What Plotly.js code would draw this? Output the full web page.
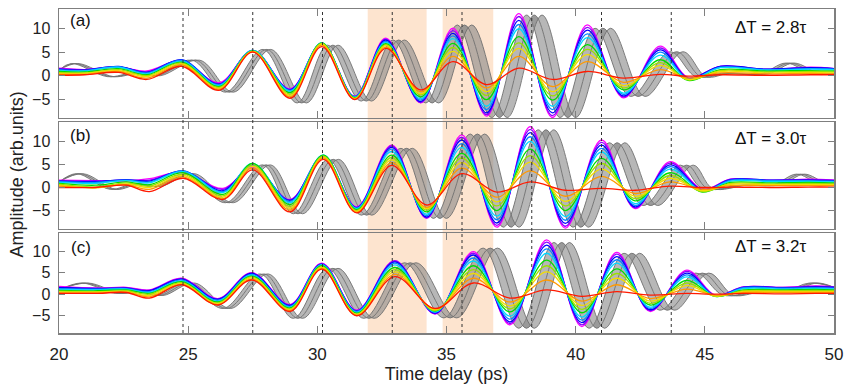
<!DOCTYPE html>
<html><head><meta charset="utf-8">
<script src="https://cdn.plot.ly/plotly-3.0.1.min.js"></script>
<style>html,body{margin:0;padding:0;background:#fff}#chart{width:850px;height:392px}</style>
</head><body><div id="chart"></div>
<script>
// Colour of each measured trace (columns of the amplitude tables), strongest -> weakest
const seriesColors = ['#ff00ff','#8a00ff','#0000ff','#0a84ff','#00d8ff','#00dd00','#9be000','#f2dc00','#ff9900','#ff1a00'];

// Vertical dotted reference lines and shaded windows (time delay, ps)
const refLines = [24.8, 27.5, 30.2, 32.9, 35.6, 38.3, 41.0, 43.7];
const shadeStart = [31.95, 34.85];
const shadeEnd   = [34.23, 36.81];

const panelLabels = ['(a)', '(b)', '(c)'];
const deltaLabels = ['\u0394T = 2.8\u03c4', '\u0394T = 3.0\u03c4', '\u0394T = 3.2\u03c4'];
const yTicks = [-5, 0, 5, 10];
const xTicks = [20, 25, 30, 35, 40, 45, 50];

// ---------- panel (a) ----------
const tA = [20, 21.0, 22.3, 23.4, 24.75, 26.2, 27.5, 28.95, 30.17, 31.45, 32.65, 34.0, 35.25, 36.55, 37.8, 39.1, 40.45, 41.85, 43.27, 44.35, 45.6, 47.3, 49.1, 50];
const aAmp = [
 [1.6, 1.5, 1.4, 1.3, 1.1, 0.9, 0.7, 0.5, 0.3, 0.1],
 [1.3, 1.3, 1.2, 1.1, 1.0, 0.8, 0.6, 0.5, 0.3, 0.2],
 [1.8, 1.9, 2.0, 1.9, 1.8, 1.5, 1.3, 1.1, 0.9, 0.7],
 [1.0, 0.8, 0.7, 0.6, 0.4, 0.2, 0.0, -0.2, -0.5, -0.8],
 [3.2, 3.3, 3.4, 3.3, 3.1, 2.9, 2.7, 2.5, 2.3, 2.0],
 [-1.5, -1.7, -1.8, -1.9, -2.1, -2.3, -2.5, -2.7, -2.9, -3.1],
 [5.3, 5.3, 5.4, 5.4, 5.4, 5.3, 5.2, 5.2, 5.1, 5.0],
 [-2.8, -2.9, -3.0, -3.1, -3.3, -3.6, -3.9, -4.2, -4.5, -4.8],
 [6.8, 6.9, 6.9, 7.0, 7.0, 7.0, 6.9, 6.7, 6.5, 6.2],
 [-4.4, -4.4, -4.5, -4.5, -4.6, -4.7, -4.8, -4.9, -5.0, -5.1],
 [8.0, 7.8, 7.6, 7.3, 7.1, 6.8, 6.6, 6.4, 6.1, 5.8],
 [-5.8, -5.7, -5.5, -5.2, -4.9, -4.5, -4.1, -3.8, -3.4, -3.0],
 [10.1, 9.6, 9.0, 8.5, 7.9, 6.9, 6.0, 5.2, 4.1, 3.0],
 [-8.6, -8.3, -7.9, -7.2, -6.5, -5.1, -4.2, -3.4, -2.6, -1.9],
 [13.2, 12.6, 11.8, 10.9, 10.0, 8.3, 7.0, 5.8, 4.1, 1.6],
 [-8.9, -8.5, -7.9, -7.2, -6.5, -5.2, -4.3, -3.4, -2.3, -0.8],
 [10.8, 10.3, 9.7, 8.9, 8.1, 6.6, 5.6, 4.5, 3.0, 0.9],
 [-4.7, -4.5, -4.3, -4.0, -3.7, -3.0, -2.6, -2.1, -1.4, -0.5],
 [6.3, 5.9, 5.5, 5.0, 4.4, 3.4, 2.8, 2.2, 1.3, 0.3],
 [-0.4, -0.5, -0.6, -0.7, -0.8, -1.0, -0.9, -0.8, -0.5, -0.1],
 [2.0, 2.0, 2.0, 1.8, 1.7, 1.3, 1.1, 0.9, 0.6, 0.2],
 [1.3, 1.4, 1.4, 1.3, 1.2, 1.0, 0.8, 0.6, 0.4, 0.1],
 [1.8, 1.7, 1.7, 1.5, 1.4, 1.1, 0.9, 0.7, 0.5, 0.2],
 [1.5, 1.5, 1.5, 1.4, 1.3, 1.0, 0.8, 0.6, 0.4, 0.2]
];
const gAv     = [1.2, 2.6, -0.2, 0.6, 0.0, 3.3, -3.5, 5.6, -5.8, 6.5, -5.4, 7.6, -5.8, 10.8, -8.9, 12.9, -8.9, 10.1, -4.4, 5.1, -0.2, 0.5, 0.4, 2.7, 0.4, 0.4];
const gAmid   = [20, 20.6, 22.0, 23.0, 23.8, 25.3, 26.6, 28.05, 29.4, 30.6, 31.9, 33.15, 34.45, 35.7, 37.05, 38.4, 39.7, 41.05, 42.4, 43.9, 44.85, 45.8, 47.3, 48.3, 49.3, 50];
const gAlead  = [20, 20.48, 21.88, 22.88, 23.68, 25.15, 26.45, 27.9, 29.22, 30.4, 31.7, 32.93, 34.2, 35.42, 36.75, 38.1, 39.4, 40.75, 42.12, 43.65, 44.65, 45.65, 47.15, 48.15, 49.15, 50];
const gAtrail = [20, 20.72, 22.12, 23.12, 23.92, 25.45, 26.75, 28.2, 29.58, 30.8, 32.1, 33.37, 34.7, 35.98, 37.35, 38.7, 40.0, 41.35, 42.68, 44.15, 45.05, 45.95, 47.45, 48.45, 49.45, 50];

// ---------- panel (b) ----------
const tB = [20, 21.4, 22.6, 23.5, 24.81, 26.35, 27.5, 28.94, 30.23, 31.52, 32.88, 34.23, 35.59, 36.95, 38.24, 39.6, 41.0, 42.3, 43.65, 44.9, 46.0, 47.5, 49.0, 50];
const bAmp = [
 [1.6, 1.5, 1.4, 1.3, 1.1, 0.9, 0.7, 0.5, 0.3, 0.0],
 [1.5, 1.4, 1.3, 1.1, 0.9, 0.5, 0.1, -0.1, 0.0, 0.0],
 [1.4, 1.6, 1.7, 1.6, 1.5, 1.2, 1.0, 0.8, 0.6, 0.5],
 [1.9, 1.6, 1.4, 1.2, 1.0, 0.6, 0.3, 0.0, -0.4, -0.9],
 [3.3, 3.5, 3.6, 3.6, 3.5, 3.2, 2.9, 2.6, 2.3, 2.0],
 [-0.2, -0.4, -0.7, -0.9, -1.1, -1.5, -1.8, -2.1, -2.4, -2.6],
 [4.3, 4.6, 4.9, 5.1, 5.2, 5.2, 4.9, 4.6, 4.2, 3.8],
 [-2.6, -2.7, -2.8, -3.0, -3.3, -3.7, -4.1, -4.5, -4.9, -5.3],
 [6.6, 6.8, 6.9, 7.0, 7.0, 7.0, 6.8, 6.6, 6.4, 6.1],
 [-4.2, -4.3, -4.4, -4.5, -4.6, -4.8, -5.0, -5.2, -5.4, -5.5],
 [9.2, 9.0, 8.7, 8.3, 7.8, 7.0, 6.5, 6.0, 5.4, 4.8],
 [-6.7, -6.6, -6.4, -6.1, -5.8, -5.3, -4.9, -4.6, -4.3, -3.8],
 [11.4, 10.9, 10.3, 9.5, 8.7, 7.4, 6.4, 5.4, 4.2, 3.0],
 [-8.6, -8.2, -7.7, -7.0, -6.2, -5.0, -4.0, -3.1, -2.1, -1.0],
 [13.2, 12.6, 11.9, 11.0, 10.0, 8.3, 6.9, 5.5, 3.6, 1.2],
 [-8.8, -8.4, -7.8, -7.1, -6.3, -5.0, -4.0, -3.0, -1.9, -0.6],
 [10.3, 9.8, 9.2, 8.5, 7.7, 6.3, 5.2, 4.0, 2.4, -0.2],
 [-4.6, -4.4, -4.2, -3.9, -3.5, -2.9, -2.4, -1.9, -1.3, -0.6],
 [5.6, 5.3, 4.9, 4.5, 4.0, 3.2, 2.6, 2.0, 1.2, 0.3],
 [-0.4, -0.5, -0.6, -0.7, -0.8, -1.0, -0.9, -0.7, -0.4, 0.0],
 [1.8, 1.8, 1.7, 1.6, 1.4, 1.1, 0.9, 0.7, 0.4, 0.1],
 [1.5, 1.6, 1.6, 1.5, 1.3, 1.0, 0.8, 0.6, 0.4, 0.0],
 [1.8, 1.7, 1.6, 1.5, 1.3, 1.1, 0.9, 0.6, 0.4, 0.1],
 [1.6, 1.6, 1.5, 1.4, 1.2, 1.0, 0.8, 0.6, 0.4, 0.1]
];
const gBv     = [1.2, 3.0, -0.4, 0.8, 0.2, 3.0, -3.3, 4.9, -5.7, 6.1, -6.0, 8.5, -6.7, 11.6, -8.6, 12.5, -8.6, 9.7, -3.9, 4.85, -0.2, 0.5, 0.6, 2.9, 1.0, 0.7];
const gBmid   = [20, 20.8, 22.1, 23.0, 23.8, 25.1, 26.6, 28.04, 29.25, 30.62, 31.91, 33.46, 34.75, 36.2, 37.5, 38.85, 40.2, 41.6, 42.88, 44.3, 45.1, 46.5, 47.8, 48.7, 49.5, 50];
const gBlead  = [20, 20.68, 21.98, 22.88, 23.68, 24.95, 26.45, 27.89, 29.07, 30.42, 31.71, 33.24, 34.5, 35.92, 37.2, 38.55, 39.9, 41.3, 42.6, 44.05, 44.9, 46.35, 47.65, 48.55, 49.35, 50];
const gBtrail = [20, 20.92, 22.22, 23.12, 23.92, 25.25, 26.75, 28.19, 29.43, 30.82, 32.11, 33.68, 35.0, 36.48, 37.8, 39.15, 40.5, 41.9, 43.16, 44.55, 45.3, 46.65, 47.95, 48.85, 49.65, 50];

// ---------- panel (c) ----------
const tC = [20, 21.5, 22.6, 23.5, 24.75, 26.15, 27.46, 28.94, 30.17, 31.52, 33.0, 34.56, 36.04, 37.46, 38.88, 40.24, 41.59, 42.88, 44.3, 45.4, 46.5, 48.0, 49.3, 50];
const cAmp = [
 [1.8, 1.6, 1.5, 1.3, 1.1, 0.9, 0.7, 0.5, 0.3, 0.2],
 [1.4, 1.4, 1.3, 1.2, 1.0, 0.8, 0.6, 0.5, 0.3, 0.2],
 [1.6, 1.5, 1.4, 1.3, 1.2, 1.0, 0.8, 0.6, 0.5, 0.4],
 [1.0, 0.9, 0.8, 0.6, 0.4, 0.2, 0.0, -0.3, -0.6, -0.9],
 [3.7, 3.6, 3.5, 3.3, 3.1, 2.9, 2.7, 2.5, 2.3, 2.2],
 [-1.0, -1.1, -1.2, -1.4, -1.6, -1.8, -2.0, -2.2, -2.4, -2.5],
 [5.0, 4.9, 4.8, 4.6, 4.4, 4.2, 4.0, 3.8, 3.5, 3.3],
 [-2.4, -2.5, -2.6, -2.8, -3.0, -3.2, -3.4, -3.6, -3.8, -4.0],
 [7.2, 7.1, 7.0, 6.9, 6.8, 6.6, 6.4, 6.2, 6.0, 5.8],
 [-3.7, -3.8, -3.9, -4.0, -4.2, -4.4, -4.6, -4.7, -4.9, -5.0],
 [7.8, 7.7, 7.5, 7.2, 6.8, 6.2, 5.7, 5.2, 4.6, 4.1],
 [-4.6, -4.5, -4.4, -4.2, -4.1, -3.9, -3.8, -3.6, -3.4, -3.3],
 [9.9, 9.5, 9.1, 8.4, 7.7, 6.6, 5.7, 4.8, 3.7, 2.6],
 [-7.1, -6.8, -6.4, -5.8, -5.1, -4.1, -3.4, -2.7, -1.8, -0.9],
 [12.6, 12.1, 11.4, 10.5, 9.5, 7.9, 6.6, 5.2, 3.3, 1.0],
 [-7.5, -7.1, -6.6, -6.0, -5.3, -4.3, -3.5, -2.6, -1.6, -0.5],
 [9.7, 9.3, 8.7, 8.0, 7.2, 5.9, 4.8, 3.7, 2.2, 0.6],
 [-4.0, -3.8, -3.6, -3.3, -3.0, -2.5, -2.1, -1.6, -1.0, -0.2],
 [5.6, 5.3, 4.9, 4.5, 4.0, 3.2, 2.6, 2.0, 1.2, 0.2],
 [-0.2, -0.3, -0.4, -0.4, -0.5, -0.5, -0.5, -0.4, -0.2, 0.0],
 [1.7, 1.7, 1.6, 1.5, 1.3, 1.0, 0.8, 0.6, 0.4, 0.2],
 [1.6, 1.6, 1.5, 1.4, 1.2, 1.0, 0.8, 0.6, 0.4, 0.1],
 [1.9, 1.8, 1.7, 1.5, 1.3, 1.1, 0.9, 0.6, 0.4, 0.2],
 [1.7, 1.7, 1.6, 1.4, 1.2, 1.0, 0.8, 0.6, 0.4, 0.2]
];
const gCv     = [1.0, 2.6, 0.2, 0.8, -0.3, 2.6, -3.3, 4.7, -5.6, 6.0, -5.6, 7.3, -5.5, 10.7, -7.9, 12.0, -7.9, 9.5, -3.7, 4.9, -0.2, 0.5, 0.8, 2.6, 1.6];
const gCmid   = [20, 21.0, 22.3, 23.2, 23.9, 25.1, 26.5, 27.95, 29.25, 30.6, 32.0, 33.6, 35.15, 36.7, 38.1, 39.46, 40.82, 42.17, 43.53, 44.9, 45.9, 47.0, 48.3, 49.2, 50];
const gClead  = [20, 20.88, 22.18, 23.08, 23.78, 24.95, 26.35, 27.8, 29.07, 30.4, 31.8, 33.38, 34.9, 36.42, 37.8, 39.16, 40.52, 41.87, 43.25, 44.65, 45.7, 46.85, 48.15, 49.05, 50];
const gCtrail = [20, 21.12, 22.42, 23.32, 24.02, 25.25, 26.65, 28.1, 29.43, 30.8, 32.2, 33.82, 35.4, 36.98, 38.4, 39.76, 41.12, 42.47, 43.81, 45.15, 46.1, 47.15, 48.45, 49.35, 50];

const panels = [
  {t: tA, amp: aAmp, gv: gAv, gmid: gAmid, glead: gAlead, gtrail: gAtrail},
  {t: tB, amp: bAmp, gv: gBv, gmid: gBmid, glead: gBlead, gtrail: gBtrail},
  {t: tC, amp: cAmp, gv: gCv, gmid: gCmid, glead: gClead, gtrail: gCtrail}
];

const traces = [];
panels.forEach((p, i) => {
  const xa = i === 0 ? 'x' : 'x' + (i + 1);
  const ya = i === 0 ? 'y' : 'y' + (i + 1);
  const gline = {color: '#6f6f6f', width: 0.9, shape: 'spline', smoothing: 1};
  const gfill = 'rgba(135,135,135,0.6)';
  traces.push({x: p.glead, y: p.gv, xaxis: xa, yaxis: ya, mode: 'lines', line: gline, hoverinfo: 'skip', showlegend: false});
  traces.push({x: p.gmid, y: p.gv, xaxis: xa, yaxis: ya, mode: 'lines', line: gline, fill: 'tonexty', fillcolor: gfill, hoverinfo: 'skip', showlegend: false});
  traces.push({x: p.gtrail, y: p.gv, xaxis: xa, yaxis: ya, mode: 'lines', line: gline, fill: 'tonexty', fillcolor: gfill, hoverinfo: 'skip', showlegend: false});
  seriesColors.forEach((c, k) => {
    traces.push({x: p.t, y: p.amp.map(r => r[k]), xaxis: xa, yaxis: ya, mode: 'lines',
      line: {color: c, width: 1.3, shape: 'spline', smoothing: 1}, hoverinfo: 'skip', showlegend: false});
  });
});

const font = 'Liberation Sans, Arial, sans-serif';
function xAxis(i, labels) {
  return {range: [20, 50], domain: [0, 1], anchor: i === 0 ? 'y' : 'y' + (i + 1),
    showline: true, linecolor: '#7f7f7f', linewidth: 1.5, mirror: 'ticks',
    ticks: 'inside', ticklen: 7, tickwidth: 1.2, tickcolor: '#7f7f7f',
    tickvals: xTicks, showticklabels: labels, ticklabelstandoff: 5,
    tickfont: {family: font, size: 17, color: '#222'},
    showgrid: false, zeroline: false, fixedrange: true};
}
function yAxis(i, dom) {
  return {range: [-9, 14.2], domain: dom, anchor: i === 0 ? 'x' : 'x' + (i + 1),
    showline: true, linecolor: '#7f7f7f', linewidth: 1.5, mirror: 'ticks',
    ticks: 'inside', ticklen: 6, tickwidth: 1.2, tickcolor: '#7f7f7f',
    tickvals: yTicks, ticklabelstandoff: 4,
    tickfont: {family: font, size: 16, color: '#222'},
    showgrid: false, zeroline: false, fixedrange: true};
}

const shapes = [];
shadeStart.forEach((s, k) => shapes.push({type: 'rect', xref: 'x', yref: 'paper', x0: s, x1: shadeEnd[k], y0: 0, y1: 1,
  fillcolor: '#fde4cf', line: {width: 0}, layer: 'below'}));
refLines.forEach(v => shapes.push({type: 'line', xref: 'x', yref: 'paper', x0: v, x1: v, y0: 0, y1: 1,
  line: {color: '#333', width: 1, dash: 'dot'}, layer: 'above'}));

const labelY = [0.963, 0.6096, 0.2639];
const deltaY = [0.9444, 0.6003, 0.267];
const annotations = [];
panelLabels.forEach((t, i) => annotations.push({text: t, xref: 'paper', yref: 'paper', x: 0.028, y: labelY[i],
  xanchor: 'center', yanchor: 'middle', showarrow: false, font: {family: font, size: 17, color: '#111'}}));
deltaLabels.forEach((t, i) => annotations.push({text: t, xref: 'paper', yref: 'paper', x: 0.9187, y: deltaY[i],
  xanchor: 'center', yanchor: 'middle', showarrow: false, font: {family: font, size: 17, color: '#111'}}));
annotations.push({text: 'Amplitude (arb.units)', xref: 'paper', yref: 'paper', x: -0.054, y: 0.49, textangle: -90,
  xanchor: 'center', yanchor: 'middle', showarrow: false, font: {family: font, size: 18, color: '#222'}});

const xa3 = xAxis(2, true);
xa3.title = {text: 'Time delay (ps)', font: {family: font, size: 18, color: '#222'}, standoff: 3};

const layout = {
  width: 850, height: 392,
  margin: {l: 59, r: 16, t: 9, b: 59},
  paper_bgcolor: '#fff', plot_bgcolor: 'rgba(0,0,0,0)',
  showlegend: false,
  xaxis: xAxis(0, false), xaxis2: xAxis(1, false), xaxis3: xa3,
  yaxis: yAxis(0, [0.6636, 1]), yaxis2: yAxis(1, [0.321, 0.6512]), yaxis3: yAxis(2, [0, 0.3086]),
  shapes: shapes, annotations: annotations
};

Plotly.newPlot('chart', traces, layout, {staticPlot: true, displayModeBar: false});
</script>
</body></html>
